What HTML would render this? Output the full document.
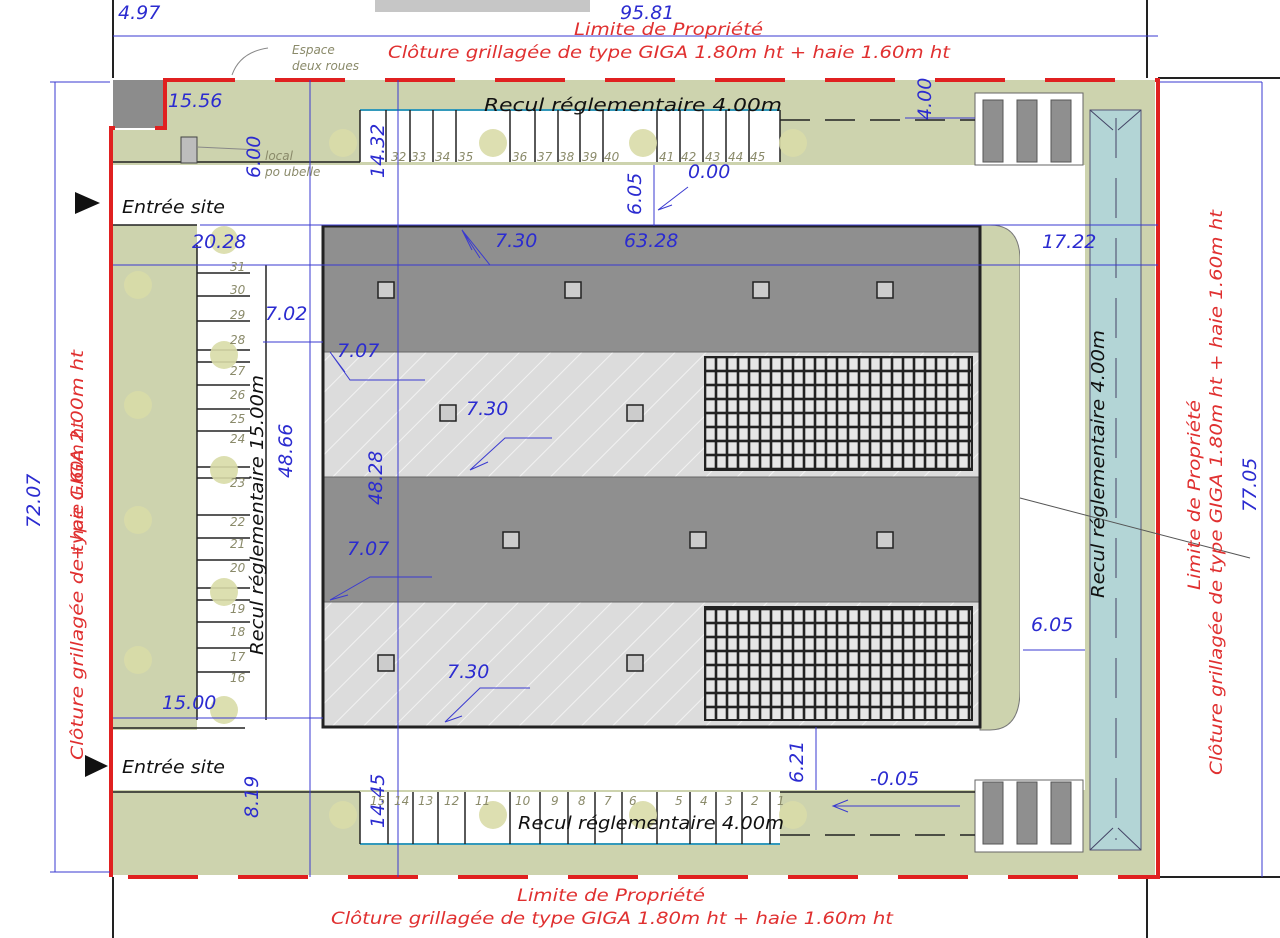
<!DOCTYPE html>
<html><head><meta charset="utf-8"><style>
html,body{margin:0;padding:0;background:#fff}
svg{display:block}
text{font-family:"DejaVu Sans","Liberation Sans",sans-serif}
.b{fill:#2b2bd0;font-size:19px;font-style:italic}
.r{fill:#e03030;font-size:17px;font-style:italic}
.k{fill:#111;font-size:18px;font-style:italic}
.n{fill:#8a8a6a;font-size:12px;font-style:italic}
.dl{stroke:#3a3ad0;stroke-width:1;fill:none}
</style></head><body>
<svg width="1280" height="938" viewBox="0 0 1280 938" xmlns="http://www.w3.org/2000/svg">
<defs>
<pattern id="h" width="22" height="22" patternUnits="userSpaceOnUse" patternTransform="rotate(45)">
<rect width="22" height="22" fill="#dcdcdc"/><line x1="0" y1="0" x2="0" y2="22" stroke="#f2f2f2" stroke-width="2"/></pattern>
<pattern id="rk" width="11" height="14" patternUnits="userSpaceOnUse" x="705" y="357">
<rect width="11" height="14" fill="#e6e6e6"/><rect x="0" y="0" width="11" height="14" fill="none" stroke="#222" stroke-width="2.6"/></pattern>
</defs>
<rect x="375" y="0" width="215" height="12" fill="#c6c6c6"/>
<g stroke="#222" stroke-width="2" fill="none">
<line x1="113" y1="0" x2="113" y2="78"/><line x1="1147" y1="0" x2="1147" y2="78"/>
<line x1="1158" y1="78" x2="1280" y2="78"/><line x1="1158" y1="877" x2="1280" y2="877"/>
<line x1="113" y1="877" x2="113" y2="938"/><line x1="1147" y1="877" x2="1147" y2="938"/>
</g>
<path d="M165 80 H1155 V875 H113 V130 H165 Z" fill="#cdd3ae"/>
<rect x="113" y="80" width="50" height="48" fill="#8c8c8c"/>
<rect x="113" y="165" width="907" height="60" fill="#fff"/>
<rect x="197" y="225" width="126" height="505" fill="#fff"/>
<rect x="113" y="730" width="907" height="60" fill="#fff"/>
<rect x="323" y="225" width="697" height="565" fill="#fff"/>
<path d="M980 225 H990 Q1020 225 1020 260 V690 Q1020 730 990 730 H980 Z" fill="#cdd3ae" stroke="#777" stroke-width="1"/>
<rect x="1020" y="165" width="65" height="625" fill="#fff"/>
<rect x="975" y="93" width="108" height="72" fill="#fff" stroke="#666"/>
<rect x="975" y="780" width="108" height="72" fill="#fff" stroke="#666"/>
<g fill="#8f8f8f" stroke="#555"><rect x="983" y="100" width="20" height="62"/><rect x="1017" y="100" width="20" height="62"/><rect x="1051" y="100" width="20" height="62"/>
<rect x="983" y="782" width="20" height="62"/><rect x="1017" y="782" width="20" height="62"/><rect x="1051" y="782" width="20" height="62"/></g>
<rect x="1090" y="110" width="51" height="740" fill="#b3d5d6" stroke="#557" stroke-width="1"/>
<g stroke="#446" stroke-width="1"><line x1="1090" y1="110" x2="1113" y2="130"/><line x1="1141" y1="110" x2="1118" y2="130"/><line x1="1090" y1="850" x2="1113" y2="828"/><line x1="1141" y1="850" x2="1118" y2="828"/><line x1="1116" y1="118" x2="1116" y2="840" stroke-dasharray="40 20"/></g>
<rect x="360" y="110" width="420" height="52" fill="#fff"/>
<line x1="360" y1="110" x2="780" y2="110" stroke="#39b" stroke-width="2"/>
<g stroke="#222" stroke-width="1.5">
<line x1="360" y1="110" x2="360" y2="162"/><line x1="386" y1="110" x2="386" y2="162"/><line x1="410" y1="110" x2="410" y2="162"/><line x1="433" y1="110" x2="433" y2="162"/><line x1="456" y1="110" x2="456" y2="162"/><line x1="510" y1="110" x2="510" y2="162"/><line x1="535" y1="110" x2="535" y2="162"/><line x1="558" y1="110" x2="558" y2="162"/><line x1="580" y1="110" x2="580" y2="162"/><line x1="603" y1="110" x2="603" y2="162"/><line x1="657" y1="110" x2="657" y2="162"/><line x1="680" y1="110" x2="680" y2="162"/><line x1="703" y1="110" x2="703" y2="162"/><line x1="726" y1="110" x2="726" y2="162"/><line x1="749" y1="110" x2="749" y2="162"/><line x1="780" y1="110" x2="780" y2="162"/>
<line x1="113" y1="162" x2="360" y2="162"/><line x1="780" y1="120" x2="975" y2="120" stroke-dasharray="30 15"/>
<line x1="113" y1="225" x2="197" y2="225"/>
</g>
<rect x="360" y="792" width="420" height="52" fill="#fff"/>
<line x1="360" y1="844" x2="780" y2="844" stroke="#39b" stroke-width="2"/>
<g stroke="#222" stroke-width="1.5">
<line x1="360" y1="792" x2="360" y2="844"/><line x1="388" y1="792" x2="388" y2="844"/><line x1="413" y1="792" x2="413" y2="844"/><line x1="438" y1="792" x2="438" y2="844"/><line x1="465" y1="792" x2="465" y2="844"/><line x1="510" y1="792" x2="510" y2="844"/><line x1="540" y1="792" x2="540" y2="844"/><line x1="568" y1="792" x2="568" y2="844"/><line x1="595" y1="792" x2="595" y2="844"/><line x1="622" y1="792" x2="622" y2="844"/><line x1="657" y1="792" x2="657" y2="844"/><line x1="690" y1="792" x2="690" y2="844"/><line x1="716" y1="792" x2="716" y2="844"/><line x1="742" y1="792" x2="742" y2="844"/><line x1="770" y1="792" x2="770" y2="844"/>
<line x1="113" y1="792" x2="360" y2="792"/><line x1="780" y1="792" x2="975" y2="792"/>
<line x1="113" y1="728" x2="245" y2="728"/>
<line x1="780" y1="835" x2="975" y2="835" stroke-dasharray="30 15"/>
</g>
<g stroke="#222" stroke-width="1.5">
<line x1="197" y1="245" x2="197" y2="720"/>
<line x1="197" y1="273" x2="250" y2="273"/><line x1="197" y1="296" x2="250" y2="296"/><line x1="197" y1="321" x2="250" y2="321"/><line x1="197" y1="350" x2="250" y2="350"/><line x1="197" y1="362" x2="250" y2="362"/><line x1="197" y1="385" x2="250" y2="385"/><line x1="197" y1="409" x2="250" y2="409"/><line x1="197" y1="431" x2="250" y2="431"/><line x1="197" y1="467" x2="250" y2="467"/><line x1="197" y1="478" x2="250" y2="478"/><line x1="197" y1="515" x2="250" y2="515"/><line x1="197" y1="538" x2="250" y2="538"/><line x1="197" y1="560" x2="250" y2="560"/><line x1="197" y1="588" x2="250" y2="588"/><line x1="197" y1="600" x2="250" y2="600"/><line x1="197" y1="622" x2="250" y2="622"/><line x1="197" y1="648" x2="250" y2="648"/><line x1="197" y1="672" x2="250" y2="672"/>
<line x1="266" y1="265" x2="266" y2="720"/>
</g>
<g fill="#d9dca8" opacity="0.9">
<circle cx="343" cy="143" r="14"/><circle cx="493" cy="143" r="14"/><circle cx="643" cy="143" r="14"/><circle cx="793" cy="143" r="14"/>
<circle cx="224" cy="355" r="14"/><circle cx="224" cy="470" r="14"/><circle cx="224" cy="592" r="14"/><circle cx="224" cy="710" r="14"/><circle cx="224" cy="240" r="14"/>
<circle cx="343" cy="815" r="14"/><circle cx="493" cy="815" r="14"/><circle cx="643" cy="815" r="14"/><circle cx="793" cy="815" r="14"/>
<circle cx="138" cy="285" r="14"/><circle cx="138" cy="405" r="14"/><circle cx="138" cy="520" r="14"/><circle cx="138" cy="660" r="14"/>
</g>
<rect x="181" y="137" width="16" height="26" fill="#bdbdbd" stroke="#444"/>
<rect x="323" y="226" width="657" height="126" fill="#8f8f8f"/>
<rect x="323" y="352" width="657" height="125" fill="url(#h)"/>
<rect x="323" y="477" width="657" height="125" fill="#8f8f8f"/>
<rect x="323" y="602" width="657" height="125" fill="url(#h)"/>
<rect x="705" y="357" width="267" height="113" fill="url(#rk)" stroke="#222" stroke-width="2"/>
<rect x="705" y="607" width="267" height="113" fill="url(#rk)" stroke="#222" stroke-width="2"/>
<g stroke="#666" stroke-width="1"><line x1="323" y1="352" x2="980" y2="352"/><line x1="323" y1="477" x2="980" y2="477"/><line x1="323" y1="602" x2="980" y2="602"/></g>
<rect x="323" y="226" width="657" height="501" fill="none" stroke="#222" stroke-width="3"/>
<g fill="#ccc" stroke="#222" stroke-width="1.5">
<rect x="378" y="282" width="16" height="16"/><rect x="565" y="282" width="16" height="16"/><rect x="753" y="282" width="16" height="16"/><rect x="877" y="282" width="16" height="16"/>
<rect x="440" y="405" width="16" height="16"/><rect x="627" y="405" width="16" height="16"/>
<rect x="503" y="532" width="16" height="16"/><rect x="690" y="532" width="16" height="16"/><rect x="877" y="532" width="16" height="16"/>
<rect x="378" y="655" width="16" height="16"/><rect x="627" y="655" width="16" height="16"/>
</g>
<path d="M165 80 H1158 V877 H111 V128 H165 Z" fill="none" stroke="#e02020" stroke-width="4" stroke-dasharray="70 40"/>
<line x1="165" y1="80" x2="165" y2="128" stroke="#e02020" stroke-width="4"/>
<line x1="111" y1="128" x2="111" y2="877" stroke="#e02020" stroke-width="4"/>
<line x1="1158" y1="80" x2="1158" y2="877" stroke="#e02020" stroke-width="4"/>
<g class="dl">
<line x1="113" y1="36" x2="1158" y2="36"/><line x1="50" y1="82" x2="110" y2="82"/><line x1="50" y1="872" x2="110" y2="872"/><line x1="55" y1="82" x2="55" y2="872"/>
<line x1="1160" y1="82" x2="1262" y2="82"/><line x1="1262" y1="82" x2="1262" y2="877"/>
<line x1="310" y1="80" x2="310" y2="877"/><line x1="398" y1="80" x2="398" y2="877"/>
<line x1="200" y1="225" x2="1158" y2="225"/><line x1="113" y1="265" x2="1158" y2="265"/>
<line x1="263" y1="342" x2="323" y2="342"/><line x1="113" y1="718" x2="323" y2="718"/>
<line x1="654" y1="165" x2="654" y2="226"/><line x1="816" y1="727" x2="816" y2="790"/><line x1="1023" y1="650" x2="1085" y2="650"/>
<line x1="905" y1="118" x2="975" y2="118"/>
<path d="M535 265 H490 L462 230 M480 258 L462 230 L472 250"/>
<path d="M425 380 H350 L330 352 M345 372 L330 352"/>
<path d="M552 438 H505 L470 470 M488 462 L470 470"/>
<path d="M432 577 H370 L330 600 M348 595 L330 600"/>
<path d="M530 688 H480 L445 722 M462 716 L445 722"/>
<path d="M688 187 L658 210 M672 205 L658 210"/>
<path d="M960 806 H833 M848 800 L833 806 L848 812"/>
</g>
<line x1="1020" y1="498" x2="1250" y2="558" stroke="#555" stroke-width="1"/>
<path d="M232 75 Q240 52 268 48" stroke="#888" fill="none"/>
<path d="M197 147 L260 150" stroke="#888"/>
<path d="M75 192 L100 203 L75 214 Z" fill="#111"/>
<path d="M85 755 L108 766 L85 777 Z" fill="#111"/>
<text x="118" y="19" class="b">4.97</text>
<text x="620" y="19" class="b">95.81</text>
<text x="574" y="35" class="r" font-size="16" textLength="189" lengthAdjust="spacingAndGlyphs">Limite de Propriété</text>
<text x="388" y="58" class="r" textLength="562" lengthAdjust="spacingAndGlyphs">Clôture grillagée de type GIGA 1.80m ht + haie 1.60m ht</text>
<text x="292" y="54" class="n">Espace</text><text x="292" y="70" class="n">deux roues</text>
<text x="168" y="107" class="b">15.56</text>
<text x="484" y="111" class="k" textLength="298" lengthAdjust="spacingAndGlyphs">Recul réglementaire 4.00m</text>
<text class="b" transform="translate(260,178) rotate(-90)">6.00</text>
<text class="b" transform="translate(384,178) rotate(-90)">14.32</text>
<text class="b" transform="translate(931,120) rotate(-90)">4.00</text>
<text x="265" y="160" class="n">local</text><text x="265" y="176" class="n">po ubelle</text>
<g class="n"><text x="391" y="161">32</text><text x="411" y="161">33</text><text x="435" y="161">34</text><text x="458" y="161">35</text><text x="512" y="161">36</text><text x="537" y="161">37</text><text x="559" y="161">38</text><text x="582" y="161">39</text><text x="604" y="161">40</text><text x="659" y="161">41</text><text x="681" y="161">42</text><text x="705" y="161">43</text><text x="728" y="161">44</text><text x="750" y="161">45</text></g>
<text class="b" transform="translate(641,215) rotate(-90)">6.05</text>
<text x="688" y="178" class="b">0.00</text>
<text x="122" y="213" class="k" textLength="103" lengthAdjust="spacingAndGlyphs">Entrée site</text>
<text x="192" y="248" class="b">20.28</text>
<text x="495" y="247" class="b">7.30</text>
<text x="624" y="247" class="b">63.28</text>
<text x="1042" y="248" class="b">17.22</text>
<g class="n"><text x="230" y="271">31</text><text x="230" y="294">30</text><text x="230" y="319">29</text><text x="230" y="344">28</text><text x="230" y="375">27</text><text x="230" y="399">26</text><text x="230" y="423">25</text><text x="230" y="443">24</text><text x="230" y="487">23</text><text x="230" y="526">22</text><text x="230" y="548">21</text><text x="230" y="572">20</text><text x="230" y="613">19</text><text x="230" y="636">18</text><text x="230" y="661">17</text><text x="230" y="682">16</text></g>
<text x="265" y="320" class="b">7.02</text>
<text x="337" y="357" class="b">7.07</text>
<text x="466" y="415" class="b">7.30</text>
<text x="347" y="555" class="b">7.07</text>
<text x="447" y="678" class="b">7.30</text>
<text x="162" y="709" class="b">15.00</text>
<text class="b" transform="translate(292,478) rotate(-90)">48.66</text>
<text class="b" transform="translate(382,505) rotate(-90)">48.28</text>
<text class="k" font-size="17" transform="translate(263,655) rotate(-90)" textLength="280" lengthAdjust="spacingAndGlyphs">Recul réglementaire 15.00m</text>
<text class="k" font-size="17" transform="translate(1104,598) rotate(-90)" textLength="268" lengthAdjust="spacingAndGlyphs">Recul réglementaire 4.00m</text>
<text class="b" transform="translate(40,528) rotate(-90)">72.07</text>
<text class="r" transform="translate(83,760) rotate(-90)" textLength="410" lengthAdjust="spacingAndGlyphs">Clôture grillagée de type GIGA 2.00m ht</text>
<text class="r" transform="translate(83,760) rotate(-90)" dx="200">+ haie 1.60m ht</text>
<text class="r" transform="translate(1200,590) rotate(-90)" textLength="190" lengthAdjust="spacingAndGlyphs">Limite de Propriété</text>
<text class="r" transform="translate(1222,775) rotate(-90)" textLength="565" lengthAdjust="spacingAndGlyphs">Clôture grillagée de type GIGA 1.80m ht + haie 1.60m ht</text>
<text class="b" transform="translate(1256,512) rotate(-90)">77.05</text>
<text x="1031" y="631" class="b">6.05</text>
<text class="b" transform="translate(803,783) rotate(-90)">6.21</text>
<text x="870" y="785" class="b">-0.05</text>
<text x="122" y="773" class="k" textLength="103" lengthAdjust="spacingAndGlyphs">Entrée site</text>
<text class="b" transform="translate(258,818) rotate(-90)">8.19</text>
<text class="b" transform="translate(384,828) rotate(-90)">14.45</text>
<g class="n"><text x="370" y="805">15</text><text x="394" y="805">14</text><text x="418" y="805">13</text><text x="444" y="805">12</text><text x="475" y="805">11</text><text x="515" y="805">10</text><text x="551" y="805">9</text><text x="578" y="805">8</text><text x="604" y="805">7</text><text x="629" y="805">6</text><text x="675" y="805">5</text><text x="700" y="805">4</text><text x="725" y="805">3</text><text x="751" y="805">2</text><text x="777" y="805">1</text></g>
<text x="518" y="829" class="k" textLength="266" lengthAdjust="spacingAndGlyphs">Recul réglementaire 4.00m</text>
<text x="517" y="901" class="r" font-size="16" textLength="188" lengthAdjust="spacingAndGlyphs">Limite de Propriété</text>
<text x="331" y="924" class="r" textLength="562" lengthAdjust="spacingAndGlyphs">Clôture grillagée de type GIGA 1.80m ht + haie 1.60m ht</text>
</svg>
</body></html>
